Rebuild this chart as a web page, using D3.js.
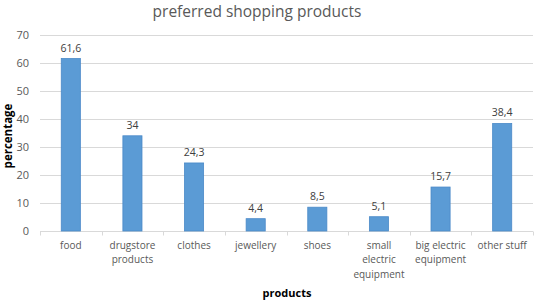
<!DOCTYPE html>
<html>
<head>
<meta charset="utf-8">
<script src="https://d3js.org/d3.v7.min.js"></script>
<style>
  body { margin: 0; background: #fff; }
  svg text { font-family: "Open Sans", "Liberation Sans", sans-serif; fill: #595959; }
</style>
</head>
<body>
<div id="chart"></div>
<script>
// chart data
var categories = ["food", "drugstore products", "clothes", "jewellery", "shoes",
    "small electric equipment", "big electric equipment", "other stuff"];
var categoryLines = [["food"], ["drugstore", "products"], ["clothes"], ["jewellery"], ["shoes"],
    ["small", "electric", "equipment"], ["big electric", "equipment"], ["other stuff"]];
var values = [61.6, 34, 24.3, 4.4, 8.5, 5.1, 15.7, 38.4];
var yTicks = [0, 10, 20, 30, 40, 50, 60, 70];

var margin = {top: 35, right: 3, bottom: 71, left: 40};
var width = 536 - margin.left - margin.right;
var height = 302 - margin.top - margin.bottom;

var svg = d3.select("#chart").append("svg")
    .attr("width", 536)
    .attr("height", 302);

var g = svg.append("g")
    .attr("transform", "translate(" + margin.left + "," + margin.top + ")");

var x = d3.scaleBand()
    .domain(categories)
    .range([0, width])
    .paddingInner(0.69)
    .paddingOuter(0.345);

var y = d3.scaleLinear()
    .domain([0, 70])
    .range([height, 0]);

// gridlines
g.selectAll(".grid")
    .data(yTicks)
    .enter().append("line")
    .attr("class", "grid")
    .attr("x1", 0)
    .attr("x2", width)
    .attr("y1", function(d) { return Math.round(y(d)) + 0.5; })
    .attr("y2", function(d) { return Math.round(y(d)) + 0.5; })
    .attr("stroke", "#d9d9d9")
    .attr("stroke-width", 1);

// y axis labels
var yAxis = d3.axisLeft(y).tickValues(yTicks).tickSize(0).tickPadding(11);
g.append("g")
    .attr("class", "y-axis")
    .call(yAxis)
    .call(function(s) { s.select(".domain").remove(); })
    .selectAll("text")
    .style("font-size", "11px");

// x axis baseline and ticks between categories
var xAxisG = g.append("g")
    .attr("transform", "translate(0," + (Math.round(height) + 0.5) + ")");
xAxisG.append("line")
    .attr("x1", 0).attr("x2", width)
    .attr("stroke", "#d9d9d9");
xAxisG.selectAll(".xtick")
    .data(d3.range(categories.length + 1))
    .enter().append("line")
    .attr("x1", function(i) { return Math.round(i * width / categories.length) + 0.5; })
    .attr("x2", function(i) { return Math.round(i * width / categories.length) + 0.5; })
    .attr("y1", 0).attr("y2", 4)
    .attr("stroke", "#d9d9d9");

// category labels
var catLabel = xAxisG.selectAll(".cat")
    .data(categories)
    .enter().append("text")
    .attr("class", "cat")
    .attr("text-anchor", "middle")
    .attr("transform", function(d) { return "translate(" + (x(d) + x.bandwidth() / 2) + ",0)"; })
    .style("font-size", "10px");
catLabel.selectAll("tspan")
    .data(function(d, i) { return categoryLines[i]; })
    .enter().append("tspan")
    .attr("x", 0)
    .attr("y", function(d, i) { return 17 + i * 14.5; })
    .text(function(d) { return d; });

// bars
g.selectAll(".bar")
    .data(values)
    .enter().append("rect")
    .attr("class", "bar")
    .attr("x", function(d, i) { return x(categories[i]); })
    .attr("y", function(d) { return y(d); })
    .attr("width", x.bandwidth())
    .attr("height", function(d) { return height - y(d); })
    .attr("fill", "#5b9bd5")
    .attr("stroke", "#4a89c8")
    .attr("stroke-width", 0.8);

// value labels
g.selectAll(".val")
    .data(values)
    .enter().append("text")
    .attr("class", "val")
    .attr("text-anchor", "middle")
    .attr("x", function(d, i) { return x(categories[i]) + x.bandwidth() / 2; })
    .attr("y", function(d) { return y(d) - 7; })
    .style("font-size", "10.5px")
    .style("fill", "#404040")
    .text(function(d) { return String(d).replace(".", ","); });

// title
svg.append("text")
    .attr("x", 257)
    .attr("y", 17)
    .attr("text-anchor", "middle")
    .style("font-size", "15.5px")
    .text("preferred shopping products");

// axis titles
svg.append("text")
    .attr("x", 287)
    .attr("y", 297)
    .attr("text-anchor", "middle")
    .style("font-size", "11px")
    .style("font-weight", "bold")
    .style("fill", "#000")
    .text("products");

svg.append("text")
    .attr("transform", "translate(12,136) rotate(-90)")
    .attr("text-anchor", "middle")
    .style("font-size", "11.5px")
    .style("font-weight", "bold")
    .style("fill", "#000")
    .text("percentage");
</script>
</body>
</html>
